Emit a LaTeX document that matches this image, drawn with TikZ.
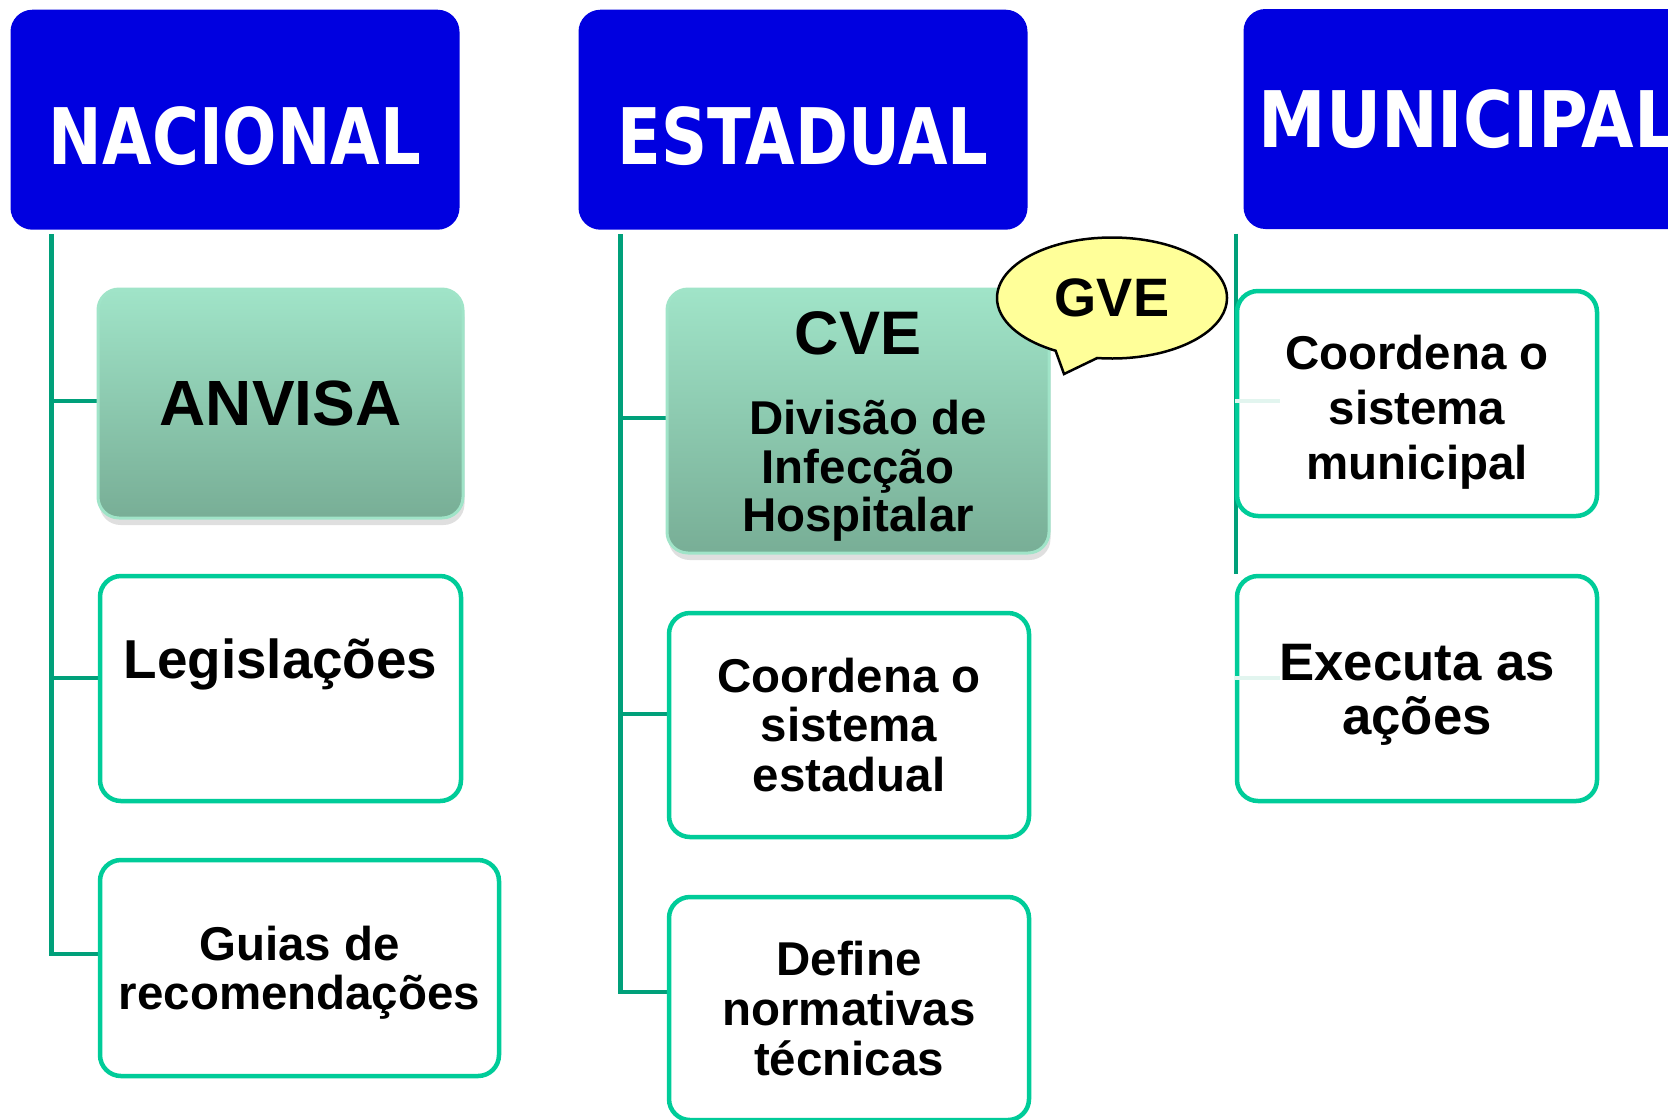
\documentclass[tikz,border=0pt]{standalone}
\usepackage{fontspec}
\setmainfont{Liberation Sans}
\newfontfamily\headfont[FakeStretch=0.82]{DejaVu Sans}
\newfontfamily\headwidefont[FakeStretch=0.87]{DejaVu Sans}
\usepackage{tikz}
\usetikzlibrary{positioning,shapes.callouts,shadows,backgrounds}
\definecolor{headblue}{RGB}{0,0,224}
\definecolor{treegreen}{RGB}{0,160,122}
\definecolor{leafgreen}{RGB}{0,204,153}
\definecolor{mintTop}{RGB}{160,228,200}
\definecolor{mintBot}{RGB}{120,174,150}
\definecolor{gveyellow}{RGB}{255,255,153}
\definecolor{stubgreen}{RGB}{226,245,239}

\begin{document}
\begin{tikzpicture}[x=0.1mm,y=-0.1mm,
   head/.style={fill=headblue,rounded corners=2.2mm,minimum width=44.9mm,minimum height=22mm,
      inner sep=0pt,text=white,font=\headfont\bfseries\fontsize{22.2}{26}\selectfont,
      text height=8.9mm,text depth=0pt},
   tree/.style={draw=treegreen,line width=0.45mm},
   stub/.style={draw=stubgreen,line width=0.45mm},
   mint/.style={rounded corners=2.1mm,top color=mintTop,bottom color=mintBot,draw=mintTop,
      line width=0.3mm,align=center,inner sep=0pt,
      drop shadow={shadow xshift=0.15mm,shadow yshift=-0.7mm,opacity=0.25}},
   leaf/.style={draw=leafgreen,line width=0.45mm,fill=white,rounded corners=2.1mm,
      align=center,inner sep=0pt,minimum width=36mm,minimum height=22.5mm,
      font=\bfseries\fontsize{13.5}{14.2}\selectfont}]
   \useasboundingbox (0,0) rectangle (1668,1119);
   \clip (0,0) rectangle (1668,1119);

   % level headers
   \node[head] (nac) at (235,119.7) {NACIONAL};
   \node[head] (est) at (803,119.7) {ESTADUAL};
   \node[head,text height=5.7mm,font=\headwidefont\bfseries\fontsize{22.2}{26}\selectfont]
      (mun) at (1468,119) {MUNICIPAL};

   % nacional
   \node[mint,minimum width=36.5mm,minimum height=22.9mm,
      font=\bfseries\fontsize{18.2}{22}\selectfont] (anvisa) at (280.5,403.5) {ANVISA};
   \node[leaf,minimum width=36.1mm,font=\bfseries\fontsize{15.6}{18}\selectfont,
      text height=4.1mm,text depth=6.2mm] (leg) at (280.5,688.5) {Legislações};
   \node[leaf,minimum width=39.9mm,minimum height=21.6mm,
      font=\bfseries\fontsize{13.5}{13.9}\selectfont] (guias) at (299.5,968)
      {\rule{0pt}{4.3mm}Guias de\\recomendações};

   % estadual
   \node[mint,minimum width=38.2mm,minimum height=26.4mm,
      font=\bfseries\fontsize{13.5}{13.9}\selectfont] (cve) at (858,421)
      {{\fontsize{17.5}{20}\selectfont\rule{0pt}{5.4mm}CVE}\\[3.1mm]\hspace*{2mm}Divisão de\\Infecção\\Hospitalar};
   \node[leaf,minimum height=22.4mm] (coord_est) at (849,725) {Coordena o\\sistema\\estadual};
   \node[leaf,minimum height=22.3mm] (define) at (849,1008.5) {Define\\normativas\\técnicas};
   \node[ellipse callout,draw=black,line width=0.25mm,fill=gveyellow,minimum width=23mm,
      minimum height=12.1mm,inner sep=0pt,callout absolute pointer={(1064,374)},
      callout pointer arc=22,font=\bfseries\fontsize{15.4}{18}\selectfont] (gve) at (1112,298) {GVE};

   % municipal
   \node[leaf,font=\bfseries\fontsize{13.5}{15.6}\selectfont] (coord_mun) at (1417,403.5)
      {\rule{0pt}{5.2mm}Coordena o\\sistema\\municipal};
   \node[leaf,font=\bfseries\fontsize{15}{15.6}\selectfont] (exec) at (1417,688.5)
      {\rule{0pt}{4.9mm}Executa as\\ações};
   \draw[stub] ([yshift=0.25mm]coord_mun.west) -- ++(4.5mm,0);
   \draw[stub] ([yshift=1.05mm]exec.west) -- ++(4.5mm,0);

   \coordinate (nac_root) at ([xshift=4.15mm,yshift=-0.4mm]nac.south west);
   \coordinate (est_root) at ([xshift=4.25mm,yshift=-0.4mm]est.south west);
   \coordinate (mun_root) at ([xshift=-0.66mm,yshift=-0.4mm]mun.south west);

   \begin{scope}[on background layer]
   \path[tree]
      (nac_root) |- ([yshift=0.25mm]anvisa.west)
      (nac_root) |- ([yshift=1.05mm]leg.west)
      (nac_root) |- ([yshift=1.4mm]guias.west)
      (est_root) |- ([yshift=0.3mm]cve.west)
      (est_root) |- ([yshift=1.1mm]coord_est.west)
      (est_root) |- ([yshift=1.65mm]define.west)
      (mun_root) -- (mun_root |- exec.north);
%   (mun_root) |- (coord_mun.west)
   \end{scope}
\end{tikzpicture}
\end{document}
